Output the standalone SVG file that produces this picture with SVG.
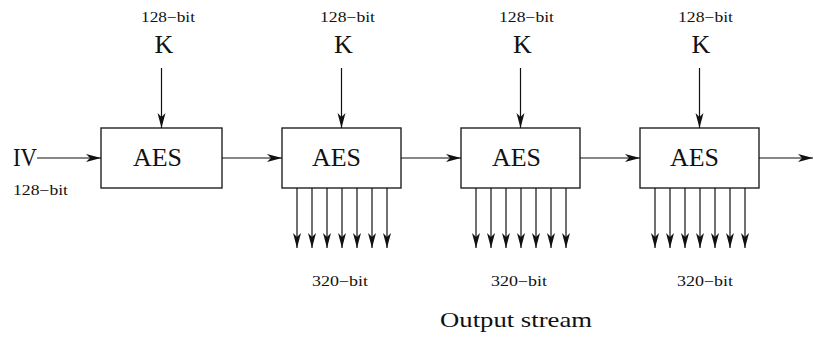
<svg xmlns="http://www.w3.org/2000/svg" width="814" height="338" viewBox="0 0 814 338">
<defs>
<style>
.box{fill:#fff;stroke:#222;stroke-width:1.4}
.ln{stroke:#111;stroke-width:1.2;fill:none;marker-end:url(#ah)}
.t{font-family:'Liberation Serif','Times New Roman',Times,serif;fill:#111}
.big{font-size:26px}
.sm{font-size:14px}
.os{font-size:21px}
</style>
<marker id="ah" viewBox="-15 -5 16 10" refX="0" refY="0" markerWidth="16" markerHeight="10" markerUnits="userSpaceOnUse" orient="auto">
<path d="M0,0 L-15,-4 L-11,0 L-15,4 Z" fill="#111"/>
</marker>
</defs>
<rect width="814" height="338" fill="#fff"/>
<g id="labels" font-family="Liberation Serif, serif">
<text class="t big" x="13" y="166" textLength="24" lengthAdjust="spacingAndGlyphs">IV</text>
<text class="t sm" x="13" y="195" textLength="55" lengthAdjust="spacingAndGlyphs">128−bit</text>
<text class="t sm" x="141" y="22" textLength="54" lengthAdjust="spacingAndGlyphs">128−bit</text>
<text class="t sm" x="320" y="22" textLength="55" lengthAdjust="spacingAndGlyphs">128−bit</text>
<text class="t sm" x="499" y="22" textLength="55" lengthAdjust="spacingAndGlyphs">128−bit</text>
<text class="t sm" x="678" y="22" textLength="55" lengthAdjust="spacingAndGlyphs">128−bit</text>
<text class="t big" x="164" y="53" text-anchor="middle">K</text>
<text class="t big" x="343.5" y="53" text-anchor="middle">K</text>
<text class="t big" x="522.5" y="53" text-anchor="middle">K</text>
<text class="t big" x="701" y="53" text-anchor="middle">K</text>
<text class="t sm" x="312" y="286" textLength="56" lengthAdjust="spacingAndGlyphs">320−bit</text>
<text class="t sm" x="491" y="286" textLength="56" lengthAdjust="spacingAndGlyphs">320−bit</text>
<text class="t sm" x="677" y="286" textLength="56" lengthAdjust="spacingAndGlyphs">320−bit</text>
<text class="t os" x="440" y="327" textLength="152" lengthAdjust="spacingAndGlyphs">Output stream</text>
</g>
<g id="aes1"><rect class="box" x="101" y="128" width="121" height="60"/><text class="t big" x="133" y="166" textLength="49" lengthAdjust="spacingAndGlyphs">AES</text></g>
<g id="aes2"><rect class="box" x="282" y="128" width="119" height="60"/><text class="t big" x="312" y="166" textLength="49" lengthAdjust="spacingAndGlyphs">AES</text></g>
<g id="aes3"><rect class="box" x="461" y="128" width="119" height="60"/><text class="t big" x="492" y="166" textLength="49" lengthAdjust="spacingAndGlyphs">AES</text></g>
<g id="aes4"><rect class="box" x="640" y="128" width="119" height="60"/><text class="t big" x="670" y="166" textLength="49" lengthAdjust="spacingAndGlyphs">AES</text></g>
<g id="connectors">
<line class="ln" x1="37" y1="158" x2="101" y2="158"/>
<line class="ln" x1="222" y1="158" x2="282" y2="158"/>
<line class="ln" x1="401" y1="158" x2="461" y2="158"/>
<line class="ln" x1="580" y1="158" x2="640" y2="158"/>
<line class="ln" x1="759" y1="158" x2="813" y2="158"/>
<line class="ln" x1="161.5" y1="68" x2="161.5" y2="128"/>
<line class="ln" x1="341.5" y1="68" x2="341.5" y2="128"/>
<line class="ln" x1="520.5" y1="68" x2="520.5" y2="128"/>
<line class="ln" x1="699.5" y1="68" x2="699.5" y2="128"/>
<line class="ln" x1="297" y1="188" x2="297" y2="248"/>
<line class="ln" x1="312" y1="188" x2="312" y2="248"/>
<line class="ln" x1="327" y1="188" x2="327" y2="248"/>
<line class="ln" x1="342" y1="188" x2="342" y2="248"/>
<line class="ln" x1="357" y1="188" x2="357" y2="248"/>
<line class="ln" x1="372" y1="188" x2="372" y2="248"/>
<line class="ln" x1="387" y1="188" x2="387" y2="248"/>
<line class="ln" x1="476" y1="188" x2="476" y2="248"/>
<line class="ln" x1="491" y1="188" x2="491" y2="248"/>
<line class="ln" x1="506" y1="188" x2="506" y2="248"/>
<line class="ln" x1="521" y1="188" x2="521" y2="248"/>
<line class="ln" x1="536" y1="188" x2="536" y2="248"/>
<line class="ln" x1="551" y1="188" x2="551" y2="248"/>
<line class="ln" x1="566" y1="188" x2="566" y2="248"/>
<line class="ln" x1="655" y1="188" x2="655" y2="248"/>
<line class="ln" x1="670" y1="188" x2="670" y2="248"/>
<line class="ln" x1="685" y1="188" x2="685" y2="248"/>
<line class="ln" x1="700" y1="188" x2="700" y2="248"/>
<line class="ln" x1="715" y1="188" x2="715" y2="248"/>
<line class="ln" x1="730" y1="188" x2="730" y2="248"/>
<line class="ln" x1="745" y1="188" x2="745" y2="248"/>
</g>
</svg>
